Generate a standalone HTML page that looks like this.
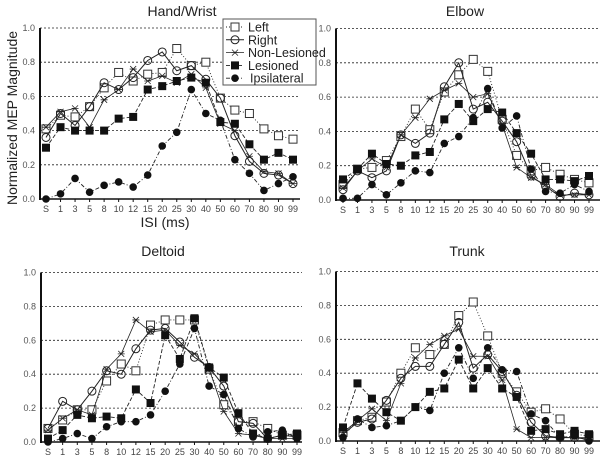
<!DOCTYPE html>
<html><head><meta charset="utf-8">
<style>
html,body{margin:0;padding:0;background:#fff;}
svg{display:block;font-family:"Liberation Sans",sans-serif;}
</style></head>
<body>
<svg id="chart" width="603" height="461" viewBox="0 0 603 461" xmlns="http://www.w3.org/2000/svg"></svg>
<script>
const categories = ["S","1","3","5","8","10","12","15","20","25","30","40","50","60","70","80","90","99"];
const yTicks = [0,0.2,0.4,0.6,0.8,1.0];
const seriesNames = ["Left","Right","Non-Lesioned","Lesioned","Ipsilateral"];
const handLeft = [.41,.49,.48,.54,.65,.74,.69,.73,.74,.88,.78,.80,.59,.52,.50,.41,.37,.35];
const handRight = [.36,.50,.43,.54,.68,.64,.71,.81,.86,.75,.78,.70,.59,.37,.22,.15,.14,.09];
const handNon = [.42,.51,.53,.42,.58,.64,.76,.69,.72,.68,.73,.65,.44,.40,.25,.16,.15,.09];
const handLes = [.30,.42,.40,.40,.40,.47,.48,.64,.66,.69,.71,.68,.45,.44,.32,.23,.27,.23];
const handIpsi = [.00,.03,.12,.04,.08,.10,.07,.14,.31,.39,.64,.50,.46,.23,.15,.05,.09,.13];
const elbowLeft = [.09,.18,.19,.23,.37,.53,.41,.63,.73,.82,.75,.47,.26,.17,.19,.15,.12,.10];
const elbowRight = [.06,.17,.13,.17,.38,.33,.39,.66,.80,.53,.57,.46,.34,.14,.08,.02,.04,.03];
const elbowNon = [.07,.17,.24,.19,.38,.48,.59,.64,.68,.60,.62,.44,.19,.13,.09,.03,.03,.03];
const elbowLes = [.12,.18,.27,.21,.20,.26,.28,.47,.56,.46,.53,.51,.39,.27,.12,.12,.11,.14];
const elbowIpsi = [.01,.01,.09,.03,.10,.17,.16,.33,.37,.48,.65,.42,.49,.18,.05,.04,.09,.05];
const deltLeft = [.08,.13,.19,.19,.36,.46,.42,.69,.72,.72,.72,.43,.22,.12,.12,.08,.04,.04];
const deltRight = [.08,.24,.19,.30,.42,.40,.55,.66,.67,.59,.50,.44,.33,.12,.11,.02,.04,.03];
const deltNon = [.07,.14,.19,.16,.43,.52,.72,.65,.66,.57,.52,.43,.18,.05,.04,.02,.02,.02];
const deltLes = [.02,.07,.16,.14,.15,.14,.31,.23,.63,.49,.73,.44,.38,.17,.05,.02,.04,.05];
const deltIpsi = [.00,.02,.05,.02,.09,.12,.12,.16,.30,.46,.67,.33,.28,.08,.03,.06,.07,.02];
const trunkLeft = [.05,.12,.14,.23,.40,.55,.51,.57,.74,.82,.62,.40,.29,.17,.19,.13,.04,.03];
const trunkRight = [.04,.11,.13,.24,.37,.44,.44,.57,.70,.43,.51,.41,.27,.11,.03,.02,.02,.01];
const trunkNon = [.05,.12,.19,.12,.34,.49,.57,.62,.66,.50,.50,.36,.07,.02,.02,.02,.02,.02];
const trunkLes = [.08,.34,.25,.17,.12,.20,.29,.31,.48,.31,.43,.31,.26,.06,.07,.04,.06,.04];
const trunkIpsi = [.02,.13,.08,.09,.12,.20,.18,.40,.55,.37,.55,.42,.41,.16,.12,.02,.03,.00];

const NS="http://www.w3.org/2000/svg";
const svg=document.getElementById('chart');
function mk(tag,attrs,parent){const e=document.createElementNS(NS,tag);for(const k in attrs)e.setAttribute(k,attrs[k]);(parent||svg).appendChild(e);return e;}

const panels=[
 {key:'hand-wrist',title:'Hand/Wrist',tx:182,ty:16,ax:40,x0:46,x1:293,yTop:28,yBot:199,gx1:300,data:[handLeft,handRight,handNon,handLes,handIpsi]},
 {key:'elbow',title:'Elbow',tx:465,ty:16,ax:336,x0:343,x1:589,yTop:28.5,yBot:200,gx1:600,data:[elbowLeft,elbowRight,elbowNon,elbowLes,elbowIpsi]},
 {key:'deltoid',title:'Deltoid',tx:163,ty:256,ax:41,x0:48,x1:297,yTop:272.5,yBot:442,gx1:302,data:[deltLeft,deltRight,deltNon,deltLes,deltIpsi]},
 {key:'trunk',title:'Trunk',tx:467,ty:256,ax:336,x0:343,x1:589,yTop:271.5,yBot:441,gx1:600,data:[trunkLeft,trunkRight,trunkNon,trunkLes,trunkIpsi]}
];
const styles=[
 {dash:'1,2',w:0.9,m:'sq-open'},
 {dash:'',w:1,m:'circ-open'},
 {dash:'',w:0.8,m:'x'},
 {dash:'4,2',w:0.9,m:'sq-fill'},
 {dash:'4,2,1,2',w:0.9,m:'circ-fill'}
];
function marker(type,x,y,g){
 let e;
 if(type==='sq-open'){e=mk('rect',{x:x-4,y:y-4,width:8,height:8,fill:'#fff',stroke:'#333','stroke-width':1},g);}
 else if(type==='sq-fill'){e=mk('rect',{x:x-4,y:y-4,width:8,height:8,fill:'#111'},g);}
 else if(type==='circ-open'){e=mk('circle',{cx:x,cy:y,r:4,fill:'none',stroke:'#222','stroke-width':1},g);}
 else if(type==='circ-fill'){e=mk('circle',{cx:x,cy:y,r:3.8,fill:'#111'},g);}
 else {e=mk('path',{d:`M${x-3},${y-3}L${x+3},${y+3}M${x-3},${y+3}L${x+3},${y-3}M${x-3.5},${y}L${x+3.5},${y}`,stroke:'#222','stroke-width':0.8},g);}
 return e;
}
panels.forEach(p=>{
 const g=mk('g',{});
 
 
 const xs=i=>p.x0+(p.x1-p.x0)*i/(categories.length-1);
 const ys=v=>p.yBot-(p.yBot-p.yTop)*v;
 const t=mk('text',{x:p.tx,y:p.ty,'text-anchor':'middle','font-size':14,fill:'#222'},g);
 t.textContent=p.title;
 
 
 yTicks.forEach(v=>{
  if(v>0){const l=mk('line',{x1:p.ax,x2:p.gx1,y1:ys(v),y2:ys(v),stroke:'#222','stroke-width':0.8,'stroke-dasharray':'2,2'},g);
   
   }
  const tl=mk('text',{x:p.ax-5,y:ys(v)+3,'text-anchor':'end','font-size':9,fill:'#555'},g);
  tl.textContent=v.toFixed(1);
  
  
 });
 const ya=mk('line',{x1:p.ax,x2:p.ax,y1:p.yTop,y2:p.yBot+1,stroke:'#111','stroke-width':2},g);
 
 
 const xa=mk('line',{x1:p.ax,x2:p.gx1,y1:p.yBot,y2:p.yBot,stroke:'#111','stroke-width':1.5},g);
 
 
 categories.forEach((c,i)=>{
  mk('line',{x1:xs(i),x2:xs(i),y1:p.yBot,y2:p.yBot+3,stroke:'#111','stroke-width':1},g);
  const xl=mk('text',{x:xs(i),y:p.yBot+13,'text-anchor':'middle','font-size':9,fill:'#444'},g);
  xl.textContent=c;
  
  
 });
 p.data.forEach((arr,si)=>{
  const st=styles[si];
  const sg=mk('g',{},g);
  
  
  const pts=arr.map((v,i)=>xs(i)+','+ys(v)).join(' ');
  const pl=mk('polyline',{points:pts,fill:'none',stroke:'#222','stroke-width':st.w},sg);
  if(st.dash)pl.setAttribute('stroke-dasharray',st.dash);
  arr.forEach((v,i)=>{
   const m=marker(st.m,xs(i),ys(v),sg);
   
   
  });
 });
});
// axis labels
const yl=mk('text',{x:0,y:0,transform:'translate(17,118) rotate(-90)','text-anchor':'middle','font-size':14,fill:'#222'});
yl.textContent='Normalized MEP Magnitude';


const xl=mk('text',{x:165,y:227,'text-anchor':'middle','font-size':14,fill:'#222'});
xl.textContent='ISI (ms)';


// legend
const lg=mk('g',{});


mk('rect',{x:223,y:19,width:93,height:66,fill:'#fff',stroke:'#555','stroke-width':1},lg);
seriesNames.forEach((n,i)=>{
 const y=27+i*12.8;
 const st=styles[i];
 const e=mk('g',{},lg);
 
 
 const l=mk('line',{x1:226,x2:244,y1:y,y2:y,stroke:'#222','stroke-width':st.w},e);
 if(st.dash)l.setAttribute('stroke-dasharray',st.dash);
 marker(st.m,235,y,e);
 const t=mk('text',{x:i===4?250:248,y:y+4.5,'font-size':12.5,fill:'#222'},e);
 t.textContent=n;
});
</script>
</body></html>
